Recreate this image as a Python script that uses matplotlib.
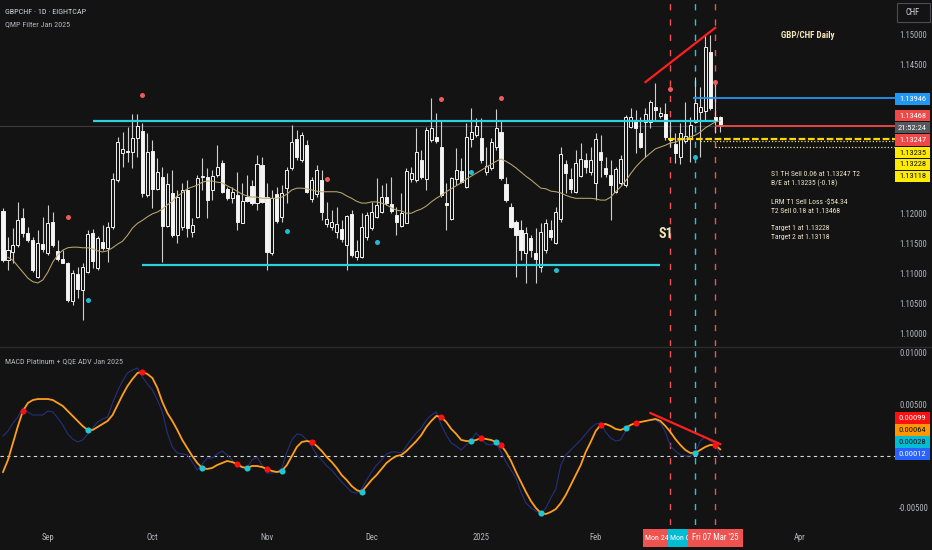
import numpy as np
import pandas as pd
import matplotlib
matplotlib.use("Agg")
import matplotlib.pyplot as plt
import matplotlib.transforms as mtransforms
from matplotlib import font_manager
from matplotlib.patches import Rectangle
from matplotlib.lines import Line2D
from matplotlib.ticker import FormatStrFormatter

# ---- data ----
dates = pd.bdate_range("2024-08-20", "2025-03-10")

opens = [
    1.1205, 1.1122, 1.1136, 1.1148, 1.1193, 1.1168, 1.1156, 1.1094, 1.1149, 1.1134,
    1.1187, 1.1137, 1.1124, 1.1117, 1.1054, 1.1099, 1.1072, 1.1102, 1.1168, 1.1109,
    1.1152, 1.1143, 1.1178, 1.1257, 1.1302, 1.1305, 1.1304, 1.1327, 1.1339, 1.1231,
    1.1305, 1.1242, 1.1262, 1.1179, 1.1235, 1.1164, 1.1178, 1.1240, 1.1169, 1.1195,
    1.1262, 1.1262, 1.1240, 1.1265, 1.1285, 1.1242, 1.1226, 1.1231, 1.1184, 1.1228,
    1.1247, 1.1218, 1.1282, 1.1228, 1.1134, 1.1233, 1.1195, 1.1243, 1.1277, 1.1325,
    1.1290, 1.1315, 1.1225, 1.1233, 1.1257, 1.1183, 1.1178, 1.1169, 1.1174, 1.1148,
    1.1200, 1.1127, 1.1127, 1.1161, 1.1176, 1.1194, 1.1203, 1.1228, 1.1216, 1.1198,
    1.1179, 1.1184, 1.1258, 1.1257, 1.1290, 1.1258, 1.1324, 1.1329, 1.1312, 1.1218,
    1.1191, 1.1258, 1.1272, 1.1245, 1.1325, 1.1332, 1.1327, 1.1270, 1.1277, 1.1312,
    1.1337, 1.1250, 1.1211, 1.1186, 1.1173, 1.1134, 1.1159, 1.1134, 1.1111, 1.1139,
    1.1173, 1.1151, 1.1191, 1.1284, 1.1258, 1.1237, 1.1263, 1.1290, 1.1270, 1.1252,
    1.1304, 1.1277, 1.1265, 1.1237, 1.1252, 1.1248, 1.1346, 1.1357, 1.1335, 1.1354,
    1.1354, 1.1379, 1.1364, 1.1367, 1.1327, 1.1317, 1.1295, 1.1322, 1.1325, 1.1354,
    1.1371, 1.1372, 1.1471, 1.1362, 1.1362]
highs = [
    1.1210, 1.1161, 1.1176, 1.1220, 1.1210, 1.1178, 1.1161, 1.1173, 1.1195, 1.1215,
    1.1203, 1.1156, 1.1139, 1.1119, 1.1106, 1.1111, 1.1117, 1.1173, 1.1174, 1.1163,
    1.1181, 1.1186, 1.1268, 1.1329, 1.1337, 1.1346, 1.1367, 1.1367, 1.1352, 1.1335,
    1.1324, 1.1293, 1.1278, 1.1268, 1.1273, 1.1240, 1.1252, 1.1257, 1.1193, 1.1265,
    1.1294, 1.1277, 1.1273, 1.1315, 1.1290, 1.1245, 1.1245, 1.1270, 1.1252, 1.1265,
    1.1257, 1.1299, 1.1295, 1.1252, 1.1240, 1.1245, 1.1248, 1.1278, 1.1349, 1.1341,
    1.1337, 1.1324, 1.1262, 1.1282, 1.1273, 1.1220, 1.1206, 1.1211, 1.1190, 1.1198,
    1.1206, 1.1156, 1.1201, 1.1203, 1.1220, 1.1260, 1.1248, 1.1252, 1.1262, 1.1211,
    1.1235, 1.1277, 1.1278, 1.1344, 1.1307, 1.1346, 1.1394, 1.1369, 1.1357, 1.1252,
    1.1262, 1.1310, 1.1293, 1.1352, 1.1377, 1.1361, 1.1361, 1.1312, 1.1327, 1.1376,
    1.1357, 1.1262, 1.1218, 1.1190, 1.1190, 1.1178, 1.1164, 1.1176, 1.1184, 1.1191,
    1.1189, 1.1211, 1.1312, 1.1290, 1.1277, 1.1307, 1.1319, 1.1302, 1.1312, 1.1335,
    1.1332, 1.1295, 1.1290, 1.1278, 1.1299, 1.1366, 1.1377, 1.1374, 1.1362, 1.1377,
    1.1391, 1.1419, 1.1379, 1.1386, 1.1357, 1.1335, 1.1352, 1.1387, 1.1362, 1.1429,
    1.1413, 1.1500, 1.1500, 1.1424, 1.1364]
lows = [
    1.1119, 1.1106, 1.1117, 1.1144, 1.1161, 1.1153, 1.1102, 1.1092, 1.1136, 1.1131,
    1.1144, 1.1121, 1.1117, 1.1052, 1.1047, 1.1059, 1.1022, 1.1101, 1.1109, 1.1106,
    1.1139, 1.1119, 1.1174, 1.1253, 1.1278, 1.1287, 1.1277, 1.1295, 1.1228, 1.1228,
    1.1210, 1.1240, 1.1119, 1.1178, 1.1161, 1.1151, 1.1173, 1.1161, 1.1161, 1.1193,
    1.1240, 1.1193, 1.1223, 1.1262, 1.1235, 1.1223, 1.1218, 1.1173, 1.1184, 1.1220,
    1.1215, 1.1206, 1.1218, 1.1106, 1.1131, 1.1184, 1.1186, 1.1218, 1.1273, 1.1290,
    1.1287, 1.1235, 1.1220, 1.1228, 1.1190, 1.1178, 1.1173, 1.1159, 1.1153, 1.1106,
    1.1127, 1.1122, 1.1126, 1.1156, 1.1173, 1.1193, 1.1201, 1.1215, 1.1201, 1.1164,
    1.1178, 1.1184, 1.1253, 1.1253, 1.1258, 1.1240, 1.1320, 1.1319, 1.1228, 1.1173,
    1.1190, 1.1248, 1.1252, 1.1243, 1.1312, 1.1329, 1.1285, 1.1265, 1.1273, 1.1307,
    1.1257, 1.1220, 1.1176, 1.1094, 1.1122, 1.1084, 1.1127, 1.1084, 1.1102, 1.1134,
    1.1156, 1.1149, 1.1186, 1.1235, 1.1235, 1.1235, 1.1262, 1.1268, 1.1265, 1.1223,
    1.1262, 1.1262, 1.1189, 1.1235, 1.1248, 1.1245, 1.1344, 1.1302, 1.1310, 1.1295,
    1.1344, 1.1357, 1.1360, 1.1324, 1.1312, 1.1285, 1.1283, 1.1319, 1.1287, 1.1352,
    1.1295, 1.1357, 1.1374, 1.1335, 1.1337]
closes = [
    1.1122, 1.1139, 1.1148, 1.1190, 1.1168, 1.1156, 1.1106, 1.1151, 1.1141, 1.1184,
    1.1148, 1.1124, 1.1118, 1.1055, 1.1101, 1.1074, 1.1111, 1.1166, 1.1121, 1.1159,
    1.1143, 1.1178, 1.1258, 1.1320, 1.1309, 1.1304, 1.1327, 1.1347, 1.1235, 1.1304,
    1.1242, 1.1270, 1.1179, 1.1250, 1.1164, 1.1228, 1.1240, 1.1176, 1.1181, 1.1260,
    1.1263, 1.1223, 1.1263, 1.1278, 1.1237, 1.1226, 1.1236, 1.1186, 1.1221, 1.1221,
    1.1218, 1.1283, 1.1220, 1.1136, 1.1226, 1.1188, 1.1235, 1.1273, 1.1320, 1.1295,
    1.1332, 1.1237, 1.1257, 1.1273, 1.1203, 1.1191, 1.1186, 1.1183, 1.1158, 1.1196,
    1.1131, 1.1137, 1.1178, 1.1198, 1.1203, 1.1215, 1.1228, 1.1218, 1.1205, 1.1186,
    1.1201, 1.1272, 1.1268, 1.1304, 1.1262, 1.1341, 1.1344, 1.1322, 1.1231, 1.1215,
    1.1260, 1.1273, 1.1253, 1.1329, 1.1337, 1.1347, 1.1290, 1.1280, 1.1320, 1.1344,
    1.1260, 1.1223, 1.1178, 1.1164, 1.1139, 1.1168, 1.1139, 1.1124, 1.1169, 1.1184,
    1.1161, 1.1203, 1.1300, 1.1268, 1.1242, 1.1285, 1.1292, 1.1278, 1.1290, 1.1325,
    1.1290, 1.1267, 1.1248, 1.1275, 1.1292, 1.1362, 1.1362, 1.1344, 1.1312, 1.1367,
    1.1387, 1.1374, 1.1369, 1.1329, 1.1324, 1.1302, 1.1335, 1.1330, 1.1349, 1.1386,
    1.1379, 1.1480, 1.1377, 1.1357, 1.1347]

# tan moving average line on the price pane
ma_line = [
    np.nan, 1.1127, 1.1122, 1.1112, 1.1102, 1.1092, 1.1086, 1.1084, 1.1089, 1.1102,
    1.1119, 1.1131, 1.1139, 1.1143, 1.1144, 1.1144, 1.1143, 1.1143, 1.1141, 1.1138,
    1.1136, 1.1138, 1.1143, 1.1149, 1.1154, 1.1164, 1.1176, 1.1184, 1.1189, 1.1195,
    1.1200, 1.1203, 1.1208, 1.1215, 1.1221, 1.1230, 1.1235, 1.1242, 1.1245, 1.1248,
    1.1253, 1.1255, 1.1255, 1.1253, 1.1252, 1.1247, 1.1243, 1.1238, 1.1233, 1.1230,
    1.1228, 1.1228, 1.1226, 1.1226, 1.1226, 1.1226, 1.1228, 1.1233, 1.1240, 1.1243,
    1.1243, 1.1242, 1.1240, 1.1238, 1.1237, 1.1237, 1.1237, 1.1237, 1.1235, 1.1230,
    1.1226, 1.1221, 1.1218, 1.1218, 1.1220, 1.1220, 1.1218, 1.1215, 1.1210, 1.1206,
    1.1205, 1.1201, 1.1201, 1.1205, 1.1208, 1.1213, 1.1220, 1.1226, 1.1231, 1.1237,
    1.1242, 1.1247, 1.1252, 1.1258, 1.1263, 1.1268, 1.1273, 1.1278, 1.1283, 1.1288,
    1.1292, 1.1288, 1.1283, 1.1277, 1.1270, 1.1263, 1.1257, 1.1250, 1.1243, 1.1242,
    1.1238, 1.1237, 1.1235, 1.1231, 1.1228, 1.1226, 1.1226, 1.1226, 1.1226, 1.1225,
    1.1223, 1.1223, 1.1228, 1.1237, 1.1245, 1.1255, 1.1267, 1.1278, 1.1287, 1.1295,
    1.1302, 1.1309, 1.1312, 1.1315, 1.1319, 1.1320, 1.1324, 1.1325, 1.1329, 1.1332,
    1.1337, 1.1344, 1.1349, 1.1354, 1.1356]

# MACD pane, values in units of 1e-5
signal_e5 = [
    -154, -38, 125, 288, 433, 510, 538, 548, 548, 548,
    538, 510, 481, 433, 385, 337, 288, 250, 250, 279,
    308, 337, 394, 490, 587, 673, 740, 798, 808, 788,
    750, 654, 519, 413, 337, 250, 154, 77, 0, -67,
    -115, -125, -115, -87, -67, -48, -58, -77, -106, -115,
    -96, -96, -106, -125, -144, -154, -144, -87, 0, 87,
    135, 144, 135, 96, 48, -10, -58, -115, -183, -231,
    -288, -327, -346, -288, -231, -183, -125, -67, -29, 0,
    10, 48, 96, 144, 202, 279, 337, 385, 375, 327,
    260, 212, 154, 144, 144, 154, 173, 163, 154, 135,
    106, 38, -48, -154, -250, -346, -433, -500, -548, -558,
    -538, -510, -452, -375, -279, -183, -87, 38, 135, 240,
    298, 308, 288, 260, 250, 269, 298, 317, 327, 337,
    346, 356, 337, 288, 231, 163, 106, 58, 29, 29,
    58, 87, 106, 106, 64]
macd_e5 = [
    192, 240, 317, 375, 462, 423, 394, 394, 394, 433,
    423, 365, 298, 212, 163, 135, 154, 212, 269, 327,
    356, 375, 510, 625, 721, 798, 827, 846, 760, 692,
    635, 538, 423, 221, 87, 29, 19, 10, -58, -135,
    -77, -19, -19, 19, 48, 10, -38, -96, -115, -115,
    -38, -10, -87, -163, -163, -154, -115, 38, 154, 212,
    202, 154, 96, 10, -38, -96, -135, -192, -250, -298,
    -346, -356, -317, -231, -154, -87, -38, 19, 38, 38,
    29, 96, 163, 221, 269, 346, 394, 423, 298, 202,
    125, 96, 58, 106, 154, 221, 173, 115, 106, 125,
    38, -58, -135, -212, -346, -452, -500, -529, -558, -500,
    -404, -317, -87, 10, 58, 106, 154, 212, 269, 308,
    317, 231, 173, 144, 154, 240, 298, 317, 327, 337,
    346, 346, 317, 231, 96, 48, 10, 0, 0, 29,
    144, 183, 144, 106, 12]

# signal dots
price_red_idx = [13, 28, 65, 88, 100, 134, 143]
price_red_val = [1.1195, 1.1399, 1.1258, 1.1393, 1.1394, 1.1409, 1.1421]
price_cyan_idx = [17, 57, 75, 94, 111, 139]
price_cyan_val = [1.1055, 1.1171, 1.1153, 1.1270, 1.1106, 1.1296]
macd_red_idx = [4, 28, 47, 53, 62, 88, 96, 100, 120, 127, 143]
macd_cyan_idx = [17, 40, 49, 56, 72, 94, 99, 108, 125, 139]

# drawn levels / ranges
range_top = 1.1355
range_top_span = ["2024-09-13", "2025-03-07"]
range_bottom = 1.1114
range_bottom_span = ["2024-09-27", "2025-02-20"]
trend_price_days = ["2025-02-17", "2025-03-07"]
trend_price_vals = [1.1421, 1.1512]
trend_macd_days = ["2025-02-18", "2025-03-10"]
trend_macd_vals = [0.00413, 0.00115]
level_blue = 1.13946
level_red = 1.13468
level_yellow = [1.13247, 1.13235, 1.13228, 1.13118]
countdown = "21:52:24"
macd_tags = [0.00099, 0.00064, 0.00028, 0.00012]

signal_days = ["2025-02-24", "2025-03-03", "2025-03-07"]
month_starts = ["2024-09-01", "2024-10-01", "2024-11-01", "2024-12-01",
                "2025-01-01", "2025-02-01", "2025-04-01"]
month_labels = ["Sep", "Oct", "Nov", "Dec", "2025", "Feb", "Apr"]
# scale values that are not hidden behind the price tags
price_ticks = [1.100, 1.105, 1.110, 1.115, 1.120, 1.145, 1.150]
macd_ticks = [-0.005, 0.005, 0.010]

note_lines = ["S1 TH Sell 0.06 at 1.13247 T2", "B/E at 1.13235 (-0.18)",
              "LRM T1 Sell Loss -$54.34", "T2 Sell 0.18 at 1.13468",
              "Target 1 at 1.13228", "Target 2 at 1.13118"]

# ---- style ----
BG = "#131313"
RED = "#f05252"
CYAN = "#26c6da"
AXTXT = "#b2b5be"
W, H = 932, 550

avail = {f.name for f in font_manager.fontManager.ttflist}
narrow = next((n for n in ["Liberation Sans Narrow", "Roboto Condensed",
                           "Open Sans Condensed"] if n in avail), None)
if narrow:
    plt.rcParams["font.family"] = [narrow, "DejaVu Sans"]
    fs = 6.2
else:
    plt.rcParams["font.family"] = ["Liberation Sans", "DejaVu Sans"]
    fs = 5.2

o = np.array(opens); h = np.array(highs); l = np.array(lows); c = np.array(closes)
idx = np.arange(len(o))
signal = np.array(signal_e5) * 1e-5
macd = np.array(macd_e5) * 1e-5
day = lambda d: dates.get_loc(pd.Timestamp(d))

fig = plt.figure(figsize=(W / 100, H / 100), dpi=100, facecolor=BG)
ax = fig.add_axes([0, 1 - 346 / H, 895 / W, 346 / H], facecolor=BG)
ax2 = fig.add_axes([0, 1 - 525 / H, 895 / W, 177 / H], facecolor=BG, sharex=ax)

for a in (ax, ax2):
    for s in a.spines.values():
        s.set_visible(False)
    a.yaxis.tick_right()
    a.tick_params(axis="y", length=0, pad=3, labelsize=fs, labelcolor=AXTXT)
ax.tick_params(axis="x", bottom=False, labelbottom=False)
ax.set_xlim(-0.6, 179.1)
ax.set_ylim(1.09782, 1.15587)
ax2.set_ylim(-0.006635, 0.010385)
ax.set_yticks(price_ticks)
ax.yaxis.set_major_formatter(FormatStrFormatter("%.5f"))
ax2.set_yticks(macd_ticks)
ax2.yaxis.set_major_formatter(FormatStrFormatter("%.5f"))

# month labels
ext = pd.bdate_range("2024-08-20", "2025-04-30")
ax2.set_xticks([ext.searchsorted(pd.Timestamp(m)) for m in month_starts])
ax2.set_xticklabels(month_labels)
ax2.tick_params(axis="x", length=0, pad=6, labelsize=fs, labelcolor=AXTXT)

# candles: hollow up, filled down
up = c >= o
ax.vlines(idx, l, h, color="#cfcfcf", lw=0.8, zorder=3)
body = np.maximum(np.abs(c - o), 0.00005)
ax.bar(idx, body, bottom=np.minimum(o, c), width=0.62,
       color=np.where(up, BG, "#f5f5f5"), edgecolor="#f0f0f0", lw=0.7, zorder=4)
ax.plot(idx, ma_line, color="#bba86f", lw=0.75, zorder=5)

# last price line
ax.axhline(c[-1], color="#3c3c3c", lw=0.8, zorder=1)

# signal verticals
for d, col in zip(signal_days, [RED, CYAN, RED]):
    for a in (ax, ax2):
        a.axvline(day(d), color=col, lw=1.0, ls=(0, (4.5, 6.5)), zorder=2)

# range lines, trendline, levels
ax.hlines(range_top, day(range_top_span[0]), day(range_top_span[1]), color="#2ed0df", lw=1.6, zorder=6)
ax.hlines(range_bottom, day(range_bottom_span[0]), day(range_bottom_span[1]), color="#2ed0df", lw=1.6, zorder=6)
ax.plot([day(d) for d in trend_price_days], trend_price_vals, color="#ff1f1f", lw=1.6, zorder=6)
right = 179.1
ax.hlines(level_blue, day("2025-03-03") - 0.4, right, color="#2196f3", lw=1.3, zorder=6)
ax.hlines(level_red, day("2025-03-07"), right, color="#f04848", lw=1.3, zorder=6)
ax.hlines(level_yellow[0], day("2025-02-24") - 0.4, right, color="#ffd600", lw=1.6, ls=(0, (3, 1.2)), zorder=6)
ax.hlines(level_yellow[2], day("2025-03-04"), right, color="#e8dc6a", lw=0.9, ls=(0, (1, 1.6)), zorder=6)
ax.hlines(level_yellow[3], day("2025-03-07"), right, color="#f0e07a", lw=0.9, ls=(0, (1, 1.6)), zorder=6)

# dots
ax.plot(price_red_idx, price_red_val, "o", color="#f05a5a", ms=3.6, mec="none", zorder=7)
ax.plot(price_cyan_idx, price_cyan_val, "o", color="#1fbcd2", ms=3.6, mec="none", zorder=7)

# MACD pane
ax2.axhline(0, color="#d8d8d8", lw=0.8, ls=(0, (3, 3)), zorder=1)
ax2.plot(idx, macd, color="#26307c", lw=0.8, zorder=3)
ax2.plot(idx, signal, color="#ff9f1a", lw=1.3, zorder=4)
ax2.plot([day(d) for d in trend_macd_days], trend_macd_vals, color="#ff1f1f", lw=1.6, zorder=5)
ax2.plot(macd_red_idx, signal[macd_red_idx], "o", color="#ff1010", ms=4.4, mec="none", zorder=6)
ax2.plot(macd_cyan_idx, signal[macd_cyan_idx], "o", color="#1fc7d4", ms=4.4, mec="none", zorder=6)

# pane separator
fig.add_artist(Line2D([0, 1], [1 - 347 / H] * 2, color="#2b2b2b", lw=1, transform=fig.transFigure))


def tag(ypx, text, fc, tc="white", hpx=11.5):
    fig.add_artist(Rectangle((895 / W, 1 - (ypx + hpx / 2) / H), 35 / W, hpx / H,
                             transform=fig.transFigure, fc=fc, ec="none", zorder=5))
    fig.text(912.5 / W, 1 - ypx / H, text, color=tc, fontsize=fs - 0.1, ha="center",
             va="center", zorder=6)


tag(99, "%.5f" % level_blue, "#2196f3")
tag(115.5, "%.5f" % level_red, "#f04848")
tag(127.5, countdown, "#55585f")
tag(140, "%.5f" % level_yellow[0], "#f04848")
for ypx, v in zip([152.5, 164.5, 176.5], level_yellow[1:]):
    tag(ypx, "%.5f" % v, "#ffeb00", "#111111")
for ypx, v, fc, tc in zip([418, 430, 442, 454], macd_tags,
                          ["#ff1010", "#ff9800", "#00bcd4", "#2962ff"],
                          ["white", "#111111", "#111111", "white"]):
    tag(ypx, "%.5f" % v, fc, tc)

# currency box
fig.add_artist(Rectangle((897 / W, 1 - 22 / H), 33 / W, 19 / H, transform=fig.transFigure,
                         fc=BG, ec="#4a4d55", lw=0.8, zorder=5))
fig.text(913 / W, 1 - 12.5 / H, "CHF", color="#d1d4dc", fontsize=fs, ha="center", va="center", zorder=6)

# date tags at the bottom; later tags sit on top of earlier ones
bt = mtransforms.blended_transform_factory(ax2.transData, fig.transFigure)
tag_cols = ["#f0524f", "#00bcd4", "#f0524f"]
half = 5.5
starts = [day(d) - half for d in signal_days]
for k, (d, col) in enumerate(zip(signal_days, tag_cols)):
    i = day(d)
    fig.add_artist(Rectangle((starts[k], 1 - 547 / H), 2 * half, 18 / H, transform=bt,
                             fc=col, ec="none", zorder=7 + k))
    full = pd.Timestamp(d).strftime("%a %d %b '%y")
    if k < len(signal_days) - 1:
        # only the part left of the next tag shows
        visible = full[:6] if k == 0 else full[:5]
        fig.text(starts[k] + 0.35, 1 - 538 / H, visible, transform=bt, color="white",
                 fontsize=fs - 0.4, ha="left", va="center", zorder=7.5 + k)
    else:
        fig.text(i, 1 - 538 / H, full, transform=bt, color="white",
                 fontsize=fs, ha="center", va="center", zorder=7.5 + k)

# titles and notes
fig.text(5 / W, 1 - 12 / H, "GBPCHF · 1D · EIGHTCAP", color="#d1d4dc", fontsize=5.9, va="center")
fig.text(5 / W, 1 - 24 / H, "QMP Filter Jan 2025", color=AXTXT, fontsize=5.9, va="center")
fig.text(5 / W, 1 - 361 / H, "MACD Platinum + QQE ADV Jan 2025", color=AXTXT, fontsize=5.8, va="center")
fig.text(808 / W, 1 - 35 / H, "GBP/CHF Daily", color="#f3e3b5", fontsize=fs + 0.4,
         fontweight="bold", ha="center", va="center")
for ypx, line in zip([174, 183, 202, 211, 228, 237], note_lines):
    fig.text(771 / W, 1 - ypx / H, line, color="#ece3c8", fontsize=5.5, va="center", parse_math=False)
fig.text(666 / W, 1 - 234 / H, "S1", color="#f3e3b5", fontsize=10, fontweight="bold",
         ha="center", va="center")

fig.savefig("out.png", dpi=100, facecolor=BG)
